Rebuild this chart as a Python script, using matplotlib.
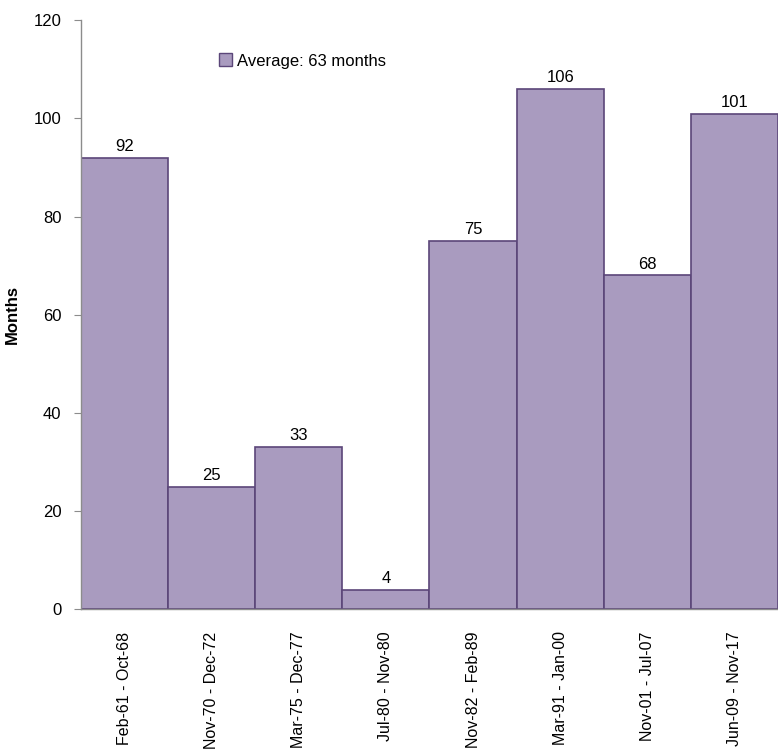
import matplotlib
matplotlib.use('Agg')
import matplotlib.pyplot as plt
from matplotlib.patches import Patch

# Expansion periods and their length in months
periods = ["Feb-61 - Oct-68", "Nov-70 - Dec-72", "Mar-75 - Dec-77", "Jul-80 - Nov-80",
           "Nov-82 - Feb-89", "Mar-91 - Jan-00", "Nov-01 - Jul-07", "Jun-09 - Nov-17"]
months = [92, 25, 33, 4, 75, 106, 68, 101]
average_label = "Average: 63 months"

FILL = '#A99BBF'
EDGE = '#5B4679'
AXIS = '#8C8C8C'

plt.rcParams['font.family'] = ['Liberation Sans', 'DejaVu Sans']

fig = plt.figure(figsize=(7.78, 7.53), dpi=100)
ax = fig.add_axes([0.104, 0.191, 0.896, 0.782])

x = range(len(months))
ax.bar(x, months, width=1.0, color=FILL, edgecolor=EDGE, linewidth=1.2)
for xi, v in zip(x, months):
    ax.text(xi, v + 0.8, str(v), ha='center', va='bottom', fontsize=12)

ax.set_xlim(-0.5, len(months) - 0.5)
ax.set_ylim(0, 120)
ax.set_yticks(range(0, 121, 20))
ax.set_xticks(list(x))
ax.set_xticklabels(periods, rotation=90, fontsize=11.5)
ax.tick_params(axis='x', length=0, pad=16)
ax.tick_params(axis='y', labelsize=12, length=5, color=AXIS, direction='out', pad=9)

ax.set_ylabel("Months", fontsize=12, fontweight='bold', labelpad=10)

for side in ['top', 'right']:
    ax.spines[side].set_visible(False)
for side in ['left', 'bottom']:
    ax.spines[side].set_color(AXIS)
    ax.spines[side].set_linewidth(1.0)

handle = Patch(facecolor=FILL, edgecolor=EDGE, linewidth=1.0)
ax.legend([handle], [average_label], loc='upper left', bbox_to_anchor=(0.188, 0.955),
          frameon=False, fontsize=12, handlelength=0.8, handleheight=0.8,
          handletextpad=0.3, borderaxespad=0)

fig.savefig('out.png', dpi=100)
